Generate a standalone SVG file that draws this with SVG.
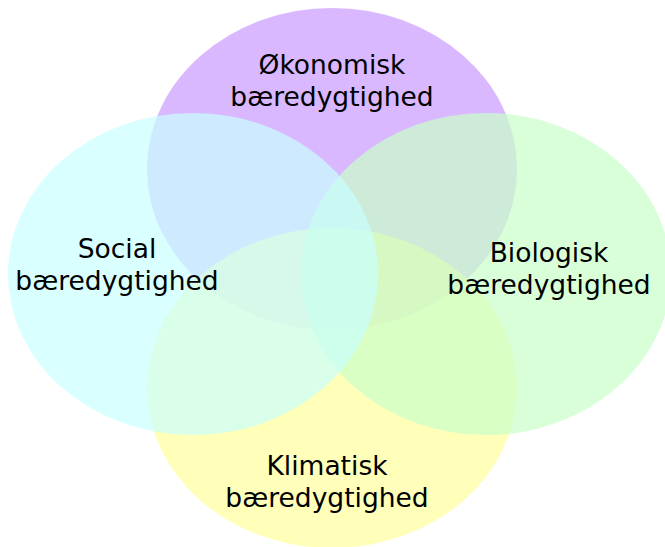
<svg xmlns="http://www.w3.org/2000/svg" width="665" height="547" viewBox="0 0 665 547">
<style>
.e{fill-opacity:0.7;stroke:none}
.t{font-family:"DejaVu Sans",Verdana,sans-serif;font-size:26.5px;fill:#000;text-anchor:middle}
</style>
<rect width="665" height="547" fill="#fff"/>
<g id="okonomisk">
<ellipse class="e" cx="332" cy="169" rx="185" ry="161" fill="#c99aff"/>
</g>
<g id="klimatisk">
<ellipse class="e" cx="332" cy="388" rx="185" ry="160" fill="#ffff9b"/>
</g>
<g id="biologisk">
<ellipse class="e" cx="486" cy="274" rx="185" ry="161" fill="#c9ffc9"/>
</g>
<g id="social">
<ellipse class="e" cx="193" cy="274" rx="185" ry="161" fill="#c9ffff"/>
</g>
<g id="connectors"></g>
<g id="labels">
<text class="t" x="332" y="74">Økonomisk</text>
<text class="t" x="332" y="106">bæredygtighed</text>
<text class="t" x="117" y="258">Social</text>
<text class="t" x="117" y="290">bæredygtighed</text>
<text class="t" x="549" y="262">Biologisk</text>
<text class="t" x="549" y="294">bæredygtighed</text>
<text class="t" x="327" y="475">Klimatisk</text>
<text class="t" x="327" y="507">bæredygtighed</text>
</g>
</svg>
